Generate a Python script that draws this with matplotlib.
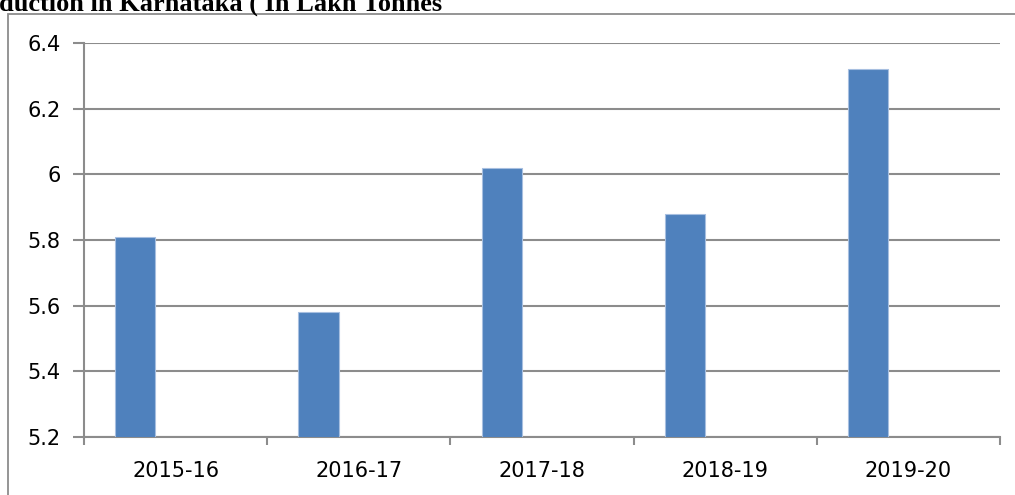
import matplotlib.pyplot as plt
from matplotlib.patches import Rectangle

years = ["2015-16", "2016-17", "2017-18", "2018-19", "2019-20"]
production = [5.81, 5.58, 6.02, 5.88, 6.32]
y_ticks = [5.2, 5.4, 5.6, 5.8, 6.0, 6.2, 6.4]
y_labels = ["5.2", "5.4", "5.6", "5.8", "6", "6.2", "6.4"]

W, H = 1015, 495
fig = plt.figure(figsize=(W / 100, H / 100), dpi=100)

# outer chart frame (runs off the right and bottom edges)
fig.patches.append(Rectangle((8 / W, -0.1), 1.2, 1 - 14 / H + 0.1,
                             transform=fig.transFigure, fill=False,
                             edgecolor="#8c8c8c", linewidth=1.3))

fig.text(-1 / W, 1 - 11 / H, "duction in Karnataka ( In Lakh Tonnes",
         fontfamily="Liberation Serif", fontweight="bold", fontsize=19,
         ha="left", va="baseline")

ax = fig.add_axes([84 / W, 1 - 437 / H, (1000 - 84) / W, (437 - 43) / H])

x = list(range(len(years)))
ax.bar([i - 0.22 for i in x], production, width=0.22, bottom=0,
       color="#4f81bd", edgecolor="#a7bfe0", linewidth=0.8, zorder=3)

ax.set_xlim(-0.5, len(years) - 0.5)
ax.set_ylim(5.2, 6.4)
ax.set_yticks(y_ticks)
ax.set_yticklabels(y_labels)
ax.set_xticks(x)
ax.set_xticklabels(years)
ax.set_xticks([i - 0.5 for i in range(len(years) + 1)], minor=True)

ax.grid(axis="y", color="#8c8c8c", linewidth=1.5, zorder=0)
for s in ["top", "right"]:
    ax.spines[s].set_visible(False)
for s in ["left", "bottom"]:
    ax.spines[s].set_color("#8c8c8c")
    ax.spines[s].set_linewidth(1.5)

ax.tick_params(axis="y", length=8, width=1.5, color="#8c8c8c", pad=9,
               labelsize=15)
ax.tick_params(axis="x", which="major", length=0, pad=17, labelsize=15)
ax.tick_params(axis="x", which="minor", length=6, width=1.5, color="#8c8c8c")

fig.savefig("out.png", dpi=100)
